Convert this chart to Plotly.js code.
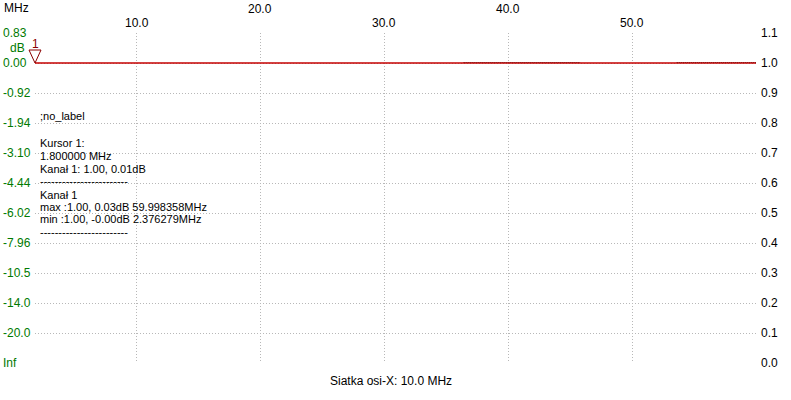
<!DOCTYPE html>
<html>
<head>
<meta charset="utf-8">
<script src="https://cdn.plot.ly/plotly-3.0.1.min.js"></script>
<style>html,body{margin:0;padding:0;background:#fff;}#chart{width:791px;height:400px;}</style>
</head>
<body>
<div id="chart"></div>
<script>
// ---- data ----
const freqMHz = [1.8, 2.376279, 10, 20, 30, 36.4, 40, 45.8, 50, 53.6, 59.9, 60];
const magnitude = [1.00, 1.00, 1.00, 1.00, 1.00, 1.00, 1.00, 1.00, 1.00, 1.00, 1.00, 1.00];
const rippleFreq = [36.4, 45.8, null, 53.6, 60];
const rippleMag = [1.0015, 1.0015, null, 1.0015, 1.0015];
const xRange = [1.8, 60];
const yRange = [0, 1.1];
const xTickVals = [10, 20, 30, 40, 50];
const xTickLabels = ["10.0", "20.0", "30.0", "40.0", "50.0"];
const yTickVals = [1.1, 1.0, 0.9, 0.8, 0.7, 0.6, 0.5, 0.4, 0.3, 0.2, 0.1, 0.0];
const yRightLabels = ["1.1", "1.0", "0.9", "0.8", "0.7", "0.6", "0.5", "0.4", "0.3", "0.2", "0.1", "0.0"];
const yLeftLabels = ["0.83", "0.00", "-0.92", "-1.94", "-3.10", "-4.44", "-6.02", "-7.96", "-10.5", "-14.0", "-20.0", "Inf"];
const cursorFreq = 1.8;
const cursorMag = 1.00;
const infoLines = [";no_label", "", "Kursor 1:", "1.800000 MHz", "Kanał 1: 1.00, 0.01dB", "------------------------",
  "Kanał 1", "max :1.00, 0.03dB 59.998358MHz", "min :1.00, -0.00dB 2.376279MHz", "------------------------"];

// ---- layout ----
const W = 791, H = 400, L = 35, R = 35, T = 33, B = 37;
const FONT = "Liberation Sans, Arial, sans-serif";
const FS = 12;
const pyToPaper = py => (H - B - py) / (H - T - B);
const pxToPaper = px => (px - L) / (W - L - R);
const xToPaper = v => (v - xRange[0]) / (xRange[1] - xRange[0]);
const yToPaper = v => (v - yRange[0]) / (yRange[1] - yRange[0]);

const annotations = [];
xTickVals.forEach((v, i) => {
  annotations.push({x: v, xref: 'x', y: pyToPaper(i % 2 === 0 ? 23 : 9), yref: 'paper',
    text: xTickLabels[i], showarrow: false, xanchor: 'center', yanchor: 'middle',
    font: {family: FONT, size: FS, color: '#000'}});
});
yTickVals.forEach((v, i) => {
  annotations.push({x: 0, xref: 'paper', xshift: -34, y: v, yref: 'y',
    text: yLeftLabels[i], showarrow: false, xanchor: 'left', yanchor: 'middle',
    font: {family: FONT, size: FS, color: '#007a00'}});
});
annotations.push({x: 0, xref: 'paper', xshift: -27, y: pyToPaper(48), yref: 'paper', text: 'dB',
  showarrow: false, xanchor: 'left', yanchor: 'middle', font: {family: FONT, size: FS, color: '#007a00'}});
annotations.push({x: 0, xref: 'paper', xshift: -33, y: pyToPaper(8), yref: 'paper', text: 'MHz',
  showarrow: false, xanchor: 'left', yanchor: 'middle', font: {family: FONT, size: FS, color: '#000'}});
annotations.push({x: pxToPaper(391), xref: 'paper', y: pyToPaper(381), yref: 'paper', text: 'Siatka osi-X: 10.0 MHz',
  showarrow: false, xanchor: 'center', yanchor: 'middle', font: {family: FONT, size: FS, color: '#000'}});
const infoY = [116, 129, 143, 156, 169, 181, 195, 207, 219, 232];
infoLines.forEach((t, i) => {
  if (!t) return;
  annotations.push({x: pxToPaper(38), xref: 'paper', y: pyToPaper(infoY[i]), yref: 'paper', text: t,
    showarrow: false, xanchor: 'left', yanchor: 'middle', font: {family: FONT, size: 11, color: '#000'}});
});
annotations.push({x: cursorFreq, xref: 'x', y: cursorMag, yref: 'y', yshift: 19, text: '1',
  showarrow: false, xanchor: 'center', yanchor: 'middle', font: {family: FONT, size: FS, color: '#8b0000'}});

const shapes = [{
  type: 'path', xref: 'paper', yref: 'paper', xsizemode: 'pixel', ysizemode: 'pixel',
  xanchor: xToPaper(cursorFreq), yanchor: yToPaper(cursorMag),
  path: 'M 0 0 L -6 13 L 6 13 Z', line: {color: '#8b0000', width: 1}, fillcolor: 'rgba(0,0,0,0)'
}];

const gridCommon = {gridcolor: '#b8b8b8', griddash: '1px,2px', gridwidth: 1, zeroline: false, showline: false};

const data = [
  {x: freqMHz, y: magnitude, type: 'scatter', mode: 'lines', line: {color: '#c40000', width: 1.4}, hoverinfo: 'skip'},
  {x: rippleFreq, y: rippleMag, type: 'scatter', mode: 'lines', line: {color: '#7a0000', width: 1, dash: '1px,1px'}, hoverinfo: 'skip', connectgaps: false},
  {x: [cursorFreq], y: [cursorMag], yaxis: 'y2', type: 'scatter', mode: 'markers', marker: {size: 1, opacity: 0}, hoverinfo: 'skip'}
];

const layout = {
  width: W, height: H, margin: {l: L, r: R, t: T, b: B, pad: 0},
  paper_bgcolor: '#fff', plot_bgcolor: '#fff', showlegend: false,
  font: {family: FONT, size: FS, color: '#000'},
  xaxis: Object.assign({range: xRange, tickvals: [xRange[0]].concat(xTickVals, [xRange[1]]), showticklabels: false, ticks: ''}, gridCommon),
  yaxis: Object.assign({range: yRange, tickvals: yTickVals, showticklabels: false, ticks: ''}, gridCommon),
  yaxis2: {overlaying: 'y', side: 'right', range: yRange, tickvals: yTickVals, ticktext: yRightLabels,
    showgrid: false, zeroline: false, ticks: '', ticklabelstandoff: 4, tickfont: {family: FONT, size: FS, color: '#000'}},
  annotations: annotations, shapes: shapes
};

Plotly.newPlot('chart', data, layout, {staticPlot: true, displayModeBar: false});
</script>
</body>
</html>
